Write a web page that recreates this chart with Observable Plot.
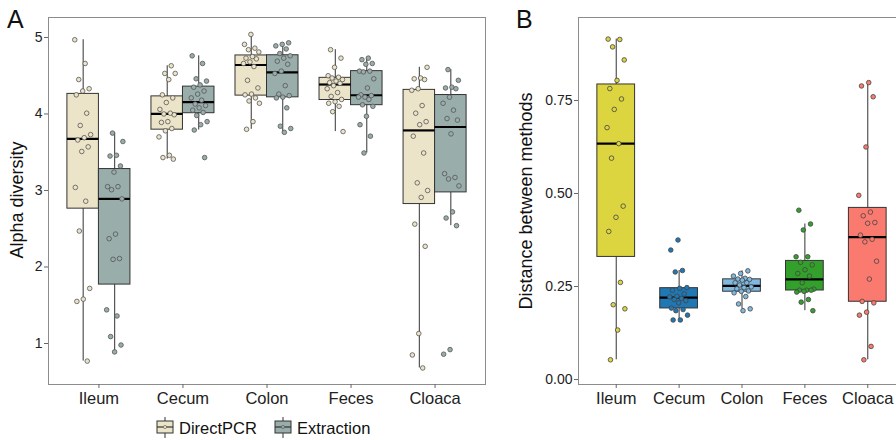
<!DOCTYPE html>
<html><head><meta charset="utf-8">
<script src="https://cdn.jsdelivr.net/npm/d3@7"></script>
<script src="https://cdn.jsdelivr.net/npm/@observablehq/plot@0.6"></script>
<style>
body{margin:0;background:#fff;font-family:"Liberation Sans",Arial,sans-serif;}
#wrap{position:relative;width:896px;height:440px;overflow:hidden;background:#fff;}
#wrap > svg, #wrap > div{position:absolute;}
</style></head><body><div id="wrap"></div>
<script>
// ---------- data ----------
const categories = ["Ileum", "Cecum", "Colon", "Feces", "Cloaca"];
const methods = ["DirectPCR", "Extraction"];
const methodColors = ["#ece4c8", "#99adab"];
const distColors = ["#dcd53f", "#1f78b4", "#80b9e0", "#33a02c", "#fb7a70"];
const alphaTicks = [1, 2, 3, 4, 5];
const alphaTickLabels = ["1", "2", "3", "4", "5"];
const distTicks = [0, 0.25, 0.5, 0.75];
const distTickLabels = ["0.00", "0.25", "0.50", "0.75"];

// Panel A: alpha diversity
const ileumDirect = [4.97,4.66,4.45,4.33,4.30,4.25,4.01,3.85,3.73,3.69,3.66,3.57,3.51,3.04,2.86,2.47,1.72,1.58,1.55,0.77];
const ileumExtraction = [3.75,3.64,3.46,3.45,3.32,3.24,3.05,3.05,3.01,2.89,2.43,2.37,2.11,2.10,1.44,1.36,1.09,0.98,0.89];
const cecumDirect = [4.63,4.53,4.53,4.45,4.25,4.21,4.15,4.06,4.01,4.00,3.99,3.90,3.89,3.81,3.78,3.70,3.46,3.43,3.41];
const cecumExtraction = [4.76,4.66,4.46,4.43,4.38,4.35,4.30,4.26,4.21,4.18,4.13,4.11,4.08,4.05,4.02,3.98,3.90,3.86,3.79,3.43];
const colonDirect = [5.04,4.91,4.86,4.84,4.81,4.75,4.73,4.72,4.68,4.66,4.62,4.44,4.34,4.26,4.25,4.21,4.17,4.14,3.90,3.80];
const colonExtraction = [4.93,4.91,4.89,4.85,4.79,4.76,4.73,4.69,4.65,4.56,4.53,4.37,4.26,4.24,4.22,4.21,4.08,3.84,3.81,3.76];
const fecesDirect = [4.84,4.73,4.61,4.50,4.48,4.47,4.45,4.43,4.41,4.40,4.37,4.33,4.28,4.23,4.19,4.16,4.14,4.10,4.03,3.77];
const fecesExtraction = [4.73,4.71,4.66,4.65,4.56,4.56,4.55,4.46,4.34,4.25,4.24,4.22,4.22,4.19,4.12,4.10,3.97,3.86,3.71,3.49];
const cloacaDirect = [4.61,4.47,4.46,4.45,4.33,4.31,4.11,4.01,3.90,3.86,3.71,3.49,3.10,3.00,2.91,2.56,2.27,1.13,0.85,0.68];
const cloacaExtraction = [4.58,4.44,4.35,4.34,4.33,4.22,4.14,4.05,3.94,3.92,3.74,3.22,3.17,3.15,3.06,2.72,2.64,2.54,0.92,0.86];

// Panel B: distance between methods
const ileumDist = [0.915,0.914,0.894,0.859,0.804,0.782,0.754,0.726,0.677,0.634,0.595,0.466,0.436,0.398,0.261,0.201,0.190,0.133,0.053];
const cecumDist = [0.375,0.348,0.293,0.289,0.247,0.245,0.240,0.230,0.224,0.222,0.218,0.215,0.212,0.206,0.192,0.188,0.185,0.173,0.160,0.160];
const colonDist = [0.292,0.285,0.278,0.272,0.270,0.269,0.267,0.260,0.260,0.254,0.249,0.247,0.244,0.238,0.237,0.233,0.223,0.203,0.190,0.185];
const fecesDist = [0.455,0.418,0.402,0.330,0.330,0.315,0.308,0.295,0.285,0.278,0.260,0.243,0.240,0.240,0.240,0.237,0.235,0.215,0.208,0.185];
const cloacaDist = [0.798,0.789,0.760,0.625,0.495,0.450,0.440,0.422,0.420,0.388,0.377,0.370,0.318,0.270,0.210,0.206,0.181,0.173,0.089,0.053];

const alphaGroups = [
  [ileumDirect, ileumExtraction], [cecumDirect, cecumExtraction], [colonDirect, colonExtraction],
  [fecesDirect, fecesExtraction], [cloacaDirect, cloacaExtraction]
];
const distGroups = [ileumDist, cecumDist, colonDist, fecesDist, cloacaDist];

// ---------- helpers ----------
function stats(values) {
  const v = values.slice().sort(d3.ascending);
  const q1 = d3.quantile(v, 0.25), med = d3.quantile(v, 0.5), q3 = d3.quantile(v, 0.75);
  const iqr = q3 - q1;
  const lo = d3.min(v.filter(x => x >= q1 - 1.5 * iqr));
  const hi = d3.max(v.filter(x => x <= q3 + 1.5 * iqr));
  return {q1, med, q3, lo, hi};
}
// deterministic jitter (presentation only)
const jit = (k, seed) => (((k * 0.618034 + seed * 0.37) % 1) - 0.5) * 2;

// ---------- Panel A ----------
const boxW = 0.375;
const aStats = [], aPts = [];
alphaGroups.forEach((pair, i) => {
  pair.forEach((vals, m) => {
    const s = stats(vals);
    const x1 = m === 0 ? i - boxW : i, x2 = m === 0 ? i : i + boxW;
    aStats.push({...s, x1, x2, xc: (x1 + x2) / 2, fill: methodColors[m]});
    vals.forEach((v, k) => aPts.push({x: (x1 + x2) / 2 + jit(k, i * 2 + m) * 0.1, y: v, fill: methodColors[m]}));
  });
});

const axisStyle = {fontFamily: "'Liberation Sans', Arial, sans-serif", color: "#222", background: "transparent", overflow: "visible"};

const plotA = Plot.plot({
  width: 500, height: 410,
  marginLeft: 48, marginRight: 15, marginTop: 17, marginBottom: 26,
  style: axisStyle,
  x: {type: "linear", domain: [-0.6, 4.6]},
  y: {domain: [0.464, 5.261]},
  marks: [
    Plot.ruleX(aStats, {x: "xc", y1: "lo", y2: "hi", stroke: "#333", strokeWidth: 1}),
    Plot.rect(aStats, {x1: "x1", x2: "x2", y1: "q1", y2: "q3", fill: "fill", stroke: "#333", strokeWidth: 1}),
    Plot.ruleY(aStats, {x1: "x1", x2: "x2", y: "med", stroke: "#000", strokeWidth: 2.2}),
    Plot.dot(aPts, {x: "x", y: "y", r: 2.3, fill: "fill", stroke: "#555", strokeWidth: 0.8}),
    Plot.frame({stroke: "#8c8c8c", strokeWidth: 1}),
    Plot.axisY({ticks: alphaTicks, tickFormat: d => alphaTickLabels[alphaTicks.indexOf(d)], tickSize: 4, tickPadding: 2, fontSize: 14, stroke: "#666", label: null}),
    Plot.axisX({ticks: [0,1,2,3,4], tickFormat: i => categories[i], tickSize: 4, tickPadding: 4, fontSize: 16.5, stroke: "#666", label: null})
  ]
});
plotA.style.left = "0px"; plotA.style.top = "0px";
document.getElementById("wrap").appendChild(plotA);

// ---------- Panel B ----------
const bW = 0.3;
const bStats = [], bPts = [];
distGroups.forEach((vals, i) => {
  const s = stats(vals);
  bStats.push({...s, x1: i - bW, x2: i + bW, xc: i, fill: distColors[i]});
  vals.forEach((v, k) => bPts.push({x: i + jit(k, i + 11) * 0.15, y: v, fill: distColors[i]}));
});

const plotB = Plot.plot({
  width: 420, height: 410,
  marginLeft: 78, marginRight: 15, marginTop: 17, marginBottom: 26,
  style: axisStyle,
  x: {type: "linear", domain: [-0.6, 4.6]},
  y: {domain: [-0.0134, 0.973]},
  marks: [
    Plot.ruleX(bStats, {x: "xc", y1: "lo", y2: "hi", stroke: "#333", strokeWidth: 1}),
    Plot.rect(bStats, {x1: "x1", x2: "x2", y1: "q1", y2: "q3", fill: "fill", stroke: "#333", strokeWidth: 1}),
    Plot.ruleY(bStats, {x1: "x1", x2: "x2", y: "med", stroke: "#000", strokeWidth: 2.2}),
    Plot.dot(bPts, {x: "x", y: "y", r: 2.3, fill: "fill", stroke: "#444", strokeWidth: 0.8}),
    Plot.frame({stroke: "#8c8c8c", strokeWidth: 1}),
    Plot.axisY({ticks: distTicks, tickFormat: d => distTickLabels[distTicks.indexOf(d)], tickSize: 4, tickPadding: 2, fontSize: 14, stroke: "#666", label: null}),
    Plot.axisX({ticks: [0,1,2,3,4], tickFormat: i => categories[i], tickSize: 4, tickPadding: 4, fontSize: 16.5, stroke: "#666", label: null})
  ]
});
plotB.style.left = "500px"; plotB.style.top = "0px";
document.getElementById("wrap").appendChild(plotB);

// ---------- overlay: panel letters, axis titles, legend ----------
const ov = d3.select("#wrap").append("svg")
  .attr("width", 896).attr("height", 440)
  .style("left", "0px").style("top", "0px").style("pointer-events", "none")
  .style("font-family", "'Liberation Sans', Arial, sans-serif");
ov.append("text").attr("x", 7).attr("y", 28).attr("font-size", 25).attr("fill", "#111").text("A");
ov.append("text").attr("x", 516).attr("y", 28).attr("font-size", 25).attr("fill", "#111").text("B");
ov.append("text").attr("transform", "translate(23,200) rotate(-90)").attr("text-anchor", "middle")
  .attr("font-size", 18).attr("fill", "#111").text("Alpha diversity");
ov.append("text").attr("transform", "translate(532,201) rotate(-90)").attr("text-anchor", "middle")
  .attr("font-size", 18).attr("fill", "#111").text("Distance between methods");

const legendX = [157, 275];
methods.forEach((name, m) => {
  const g = ov.append("g").attr("transform", `translate(${legendX[m]},0)`);
  g.append("line").attr("x1", 8).attr("x2", 8).attr("y1", 417).attr("y2", 438).attr("stroke", "#333");
  g.append("rect").attr("x", 0).attr("y", 421).attr("width", 16).attr("height", 12)
    .attr("fill", methodColors[m]).attr("stroke", "#333").attr("stroke-width", 1);
  g.append("line").attr("x1", 0).attr("x2", 16).attr("y1", 427).attr("y2", 427).attr("stroke", "#333").attr("stroke-width", 1.2);
  g.append("circle").attr("cx", 8).attr("cy", 427).attr("r", 1.6).attr("fill", methodColors[m]).attr("stroke", "#555").attr("stroke-width", 0.6);
  g.append("text").attr("x", 22).attr("y", 434).attr("font-size", 16.5).attr("fill", "#111").text(name);
});
</script></body></html>
